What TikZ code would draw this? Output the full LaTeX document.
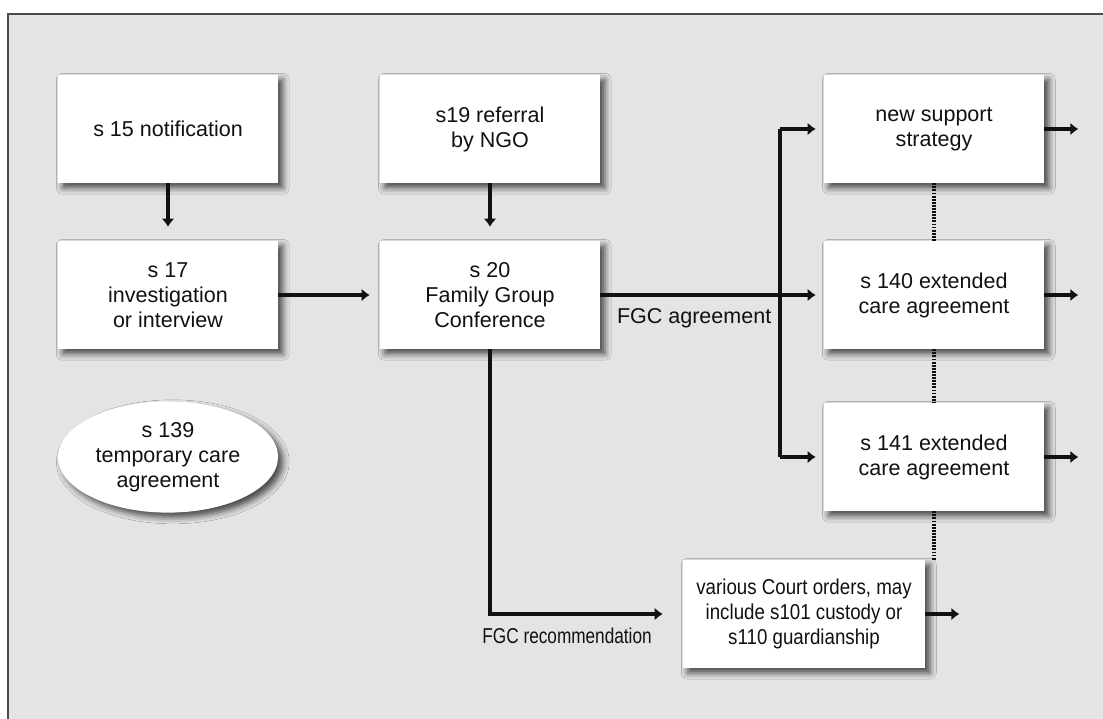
\documentclass[tikz,border=0pt]{standalone}
\usepackage{fontspec}
\setmainfont{Liberation Sans}
\newfontfamily\narrowsf[FakeStretch=0.87]{Liberation Sans}
\newfontfamily\narrowersf[FakeStretch=0.8]{Liberation Sans}
\usepackage{tikz}
\usetikzlibrary{shapes.geometric,arrows.meta}
\usetikzlibrary{shadows.blur,calc,backgrounds}
\usepackage{xcolor}
\definecolor{panel}{HTML}{E4E4E4}
\definecolor{ink}{HTML}{111111}
\tikzstyle{flow}=[
  >={Latex[length=0.2cm,width=0.32cm]},font=\fontsize{15.3}{17.8}\selectfont,x=0.025cm,y=-0.025cm
]
\tikzstyle{box}=[
  fill=white,align=center,text=ink,inner sep=2pt,
  minimum width=5.5cm,minimum height=2.7cm,
  blur shadow={shadow xshift=0.12cm,shadow yshift=-0.12cm,shadow blur radius=0.16cm,shadow opacity=70}
]
\tikzstyle{oval}=[
  box,ellipse,minimum width=5.5cm,minimum height=2.78cm
]
\tikzstyle{arrow}=[->,line width=2.6pt,draw=ink]
\tikzstyle{dots}=[line width=3pt,dash pattern=on 1.3pt off 0.9pt,draw=ink]
\tikzstyle{lbl}=[text=ink,inner sep=2pt]

\begin{document}
\begin{tikzpicture}[flow]
    \useasboundingbox (0,0) rectangle (1103,718);
    \clip (0,0) rectangle (1103,718);
    % panel
    \fill[white] (0,0) rectangle (1103,718);
    \draw[fill=panel,draw=gray!60!black,line width=0.8pt] (8,14) rectangle (1130,740);
    % left column
    \node[box] (notif) at (168,129) {s 15 notification};
    \node[box] (invest) at (168,295) {s 17\\investigation\\or interview};
    \node[oval] (temp) at (168,457) {s 139\\temporary care\\agreement};
    % middle column
    \node[box] (referral) at (490,129) {s19 referral\\by NGO};
    \node[box] (fgc) at (490,295) {s 20\\Family Group\\Conference};
    % right column
    \node[box] (support) at (934,129) {new support\\strategy};
    \node[box] (ext140) at (934,295) {s 140 extended\\care agreement};
    \node[box] (ext141) at (934,457) {s 141 extended\\care agreement};
    \node[box,minimum width=6.05cm,font={\narrowsf\fontsize{15.3}{17.8}\selectfont}] (court) at (804,614)
        {various Court orders, may\\include s101 custody or\\s110 guardianship};
    % fork
    \coordinate (forktop) at (780,129);
    \coordinate (forkbot) at (780,457);
    % connectors
    \draw[arrow,shorten >=0.35cm] (notif.south) -- (invest.north);
    \draw[arrow,shorten >=0.35cm] (referral.south) -- (fgc.north);
    \draw[arrow,shorten >=0.25cm] (invest.east) -- (fgc.west);
    \draw[arrow,shorten >=0.2cm] (fgc.east) --
        node[lbl,below=0.22cm,pos=0.42] {FGC agreement} (ext140.west);
    \draw[line width=2.6pt,draw=ink] (forktop) -- (forkbot);
    \draw[arrow,shorten >=0.2cm] (forktop) -- (support.west);
    \draw[arrow,shorten >=0.2cm] (forkbot) -- (ext141.west);
    \draw[arrow,shorten >=0.5cm] (fgc.south) |-
        node[lbl,below=0.22cm,pos=0.7,font={\narrowersf\fontsize{15.3}{17.8}\selectfont}] {FGC recommendation} (court.west);
    % dotted links
    \draw[dots] (support.south) -- (ext140.north);
    \draw[dots] (ext140.south) -- (ext141.north);
    \draw[dots] (ext141.south) -- (ext141.south |- court.north);
    % outgoing
    \foreach \n in {support,ext140,ext141,court}
    {
      \path (\n.east) ++(34,0) coordinate (\n-out);
      \draw[arrow] (\n.east) -- (\n-out);
    }
\end{tikzpicture}
\end{document}
